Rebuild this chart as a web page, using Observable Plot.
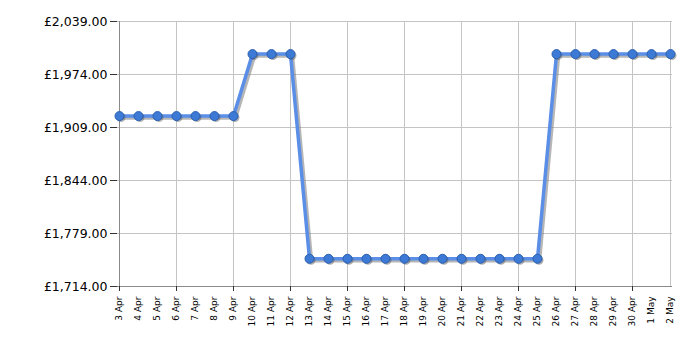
<!DOCTYPE html>
<html>
<head>
<meta charset="utf-8">
<script src="https://cdn.jsdelivr.net/npm/d3@7"></script>
<script src="https://cdn.jsdelivr.net/npm/@observablehq/plot@0.6"></script>
<style>
  html, body { margin: 0; padding: 0; background: #fff; }
  #chart svg { display: block; }
</style>
</head>
<body>
<div id="chart"></div>
<script>
const dayLabels = ["3 Apr","4 Apr","5 Apr","6 Apr","7 Apr","8 Apr","9 Apr","10 Apr","11 Apr","12 Apr",
  "13 Apr","14 Apr","15 Apr","16 Apr","17 Apr","18 Apr","19 Apr","20 Apr","21 Apr","22 Apr",
  "23 Apr","24 Apr","25 Apr","26 Apr","27 Apr","28 Apr","29 Apr","30 Apr","1 May","2 May"];
const prices = [1923,1923,1923,1923,1923,1923,1923,1999,1999,1999,
  1748,1748,1748,1748,1748,1748,1748,1748,1748,1748,
  1748,1748,1748,1999,1999,1999,1999,1999,1999,1999];
const yTicks = [1714,1779,1844,1909,1974,2039];
const gridDays = ["3 Apr","6 Apr","9 Apr","12 Apr","15 Apr","18 Apr","21 Apr","24 Apr","27 Apr","30 Apr"];

const data = dayLabels.map((d, i) => ({day: d, price: prices[i]}));
const fmt = v => "£" + d3.format(",.2f")(v);

const chart = Plot.plot({
  width: 700,
  height: 350,
  marginLeft: 117,
  marginRight: 28,
  marginTop: 21,
  marginBottom: 64,
  style: {fontFamily: "'DejaVu Sans', Verdana, sans-serif", background: "#fff", color: "#000"},
  x: {type: "point", domain: dayLabels, padding: 0},
  y: {domain: [1714, 2039]},
  marks: [
    Plot.ruleY(yTicks, {stroke: "#c4c4c4", strokeWidth: 1}),
    Plot.ruleX(gridDays, {stroke: "#c4c4c4", strokeWidth: 1}),
    Plot.ruleX(["2 May"], {stroke: "#c4c4c4", strokeWidth: 1}),
    Plot.ruleX(["3 Apr"], {stroke: "#8a8a8a", strokeWidth: 1}),
    Plot.ruleY([1714], {stroke: "#8a8a8a", strokeWidth: 1}),
    Plot.axisY({ticks: yTicks, tickFormat: fmt, tickSize: 7, tickPadding: 3, fontSize: 12.5, stroke: "#333", label: null}),
    Plot.axisX({ticks: gridDays, tickFormat: () => "", tickSize: 5, stroke: "#333", label: null}),
    Plot.axisX({ticks: dayLabels, tickSize: 0, tickRotate: -90, tickPadding: 10, fontSize: 9, label: null, textAnchor: "end"}),
    Plot.line(data, {x: "day", y: "price", stroke: "#7a7a7a", strokeWidth: 3.5, strokeOpacity: 0.55, dx: 2, dy: 2}),
    Plot.line(data, {x: "day", y: "price", stroke: "#5b8ee6", strokeWidth: 3.5}),
    Plot.dot(data, {x: "day", y: "price", r: 4.5, fill: "#555", fillOpacity: 0.45, stroke: "none", dx: 1.5, dy: 1.5}),
    Plot.dot(data, {x: "day", y: "price", r: 4.5, fill: "#3d7ad6", stroke: "#2a5fb0", strokeWidth: 1})
  ]
});
document.getElementById("chart").appendChild(chart);
</script>
</body>
</html>
